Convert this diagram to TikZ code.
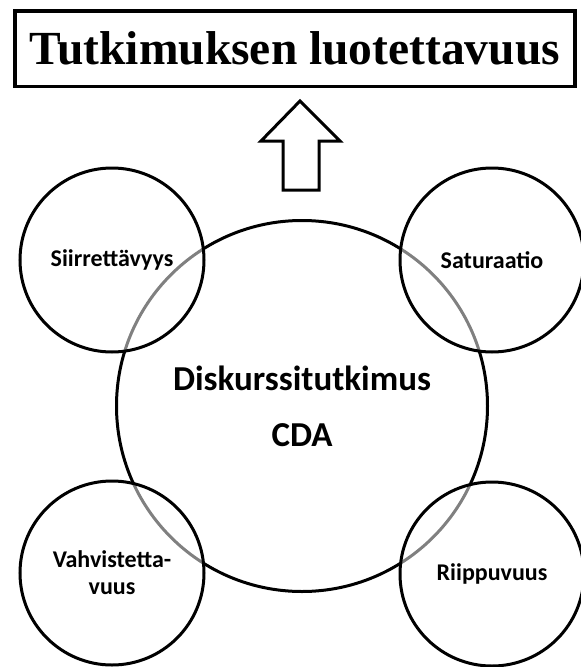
\documentclass[tikz,border=0pt]{standalone}
\usepackage{fontspec}
\setmainfont{Liberation Serif}
\newfontfamily\calibri{Carlito}

\begin{document}
\begin{tikzpicture}
  [x=1pt,y=-1pt,
    line width=3pt,
    criterion/.style={circle,draw,fill=white,fill opacity=0.5,text opacity=1,
      minimum size=184pt,inner sep=0pt,align=center,
      font=\calibri\bfseries\fontsize{24}{27}\selectfont}]

  \useasboundingbox (0,0) rectangle (581,667);

  \node[draw,line width=3.5pt,minimum width=560pt,minimum height=75.5pt,inner sep=0pt,
        font=\bfseries\fontsize{47.5}{50}\selectfont] (title) at (295,48.5)
        {Tutkimuksen luotettavuus};

  % hollow arrow up to the title
  \draw[line join=miter] (283,190) -- (283,141) -- (261,141) -- (300,101)
    -- (340,141) -- (319,141) -- (319,190) -- cycle;

  \node[circle,draw,minimum size=371pt,inner sep=0pt,align=center,
        font=\calibri\bfseries\fontsize{35}{56}\selectfont] (cda) at (302,406)
        {Diskurssitutkimus\\CDA};

  \node[criterion] (siirr) at (112,260) {Siirrettävyys};
  \node[criterion] (satur) at (492,260) {Saturaatio};
  \node[criterion] (vahv) at (112,573) {Vahvistetta-\\vuus};
  \node[criterion] (riipp) at (492,574) {Riippuvuus};

\end{tikzpicture}
\end{document}
